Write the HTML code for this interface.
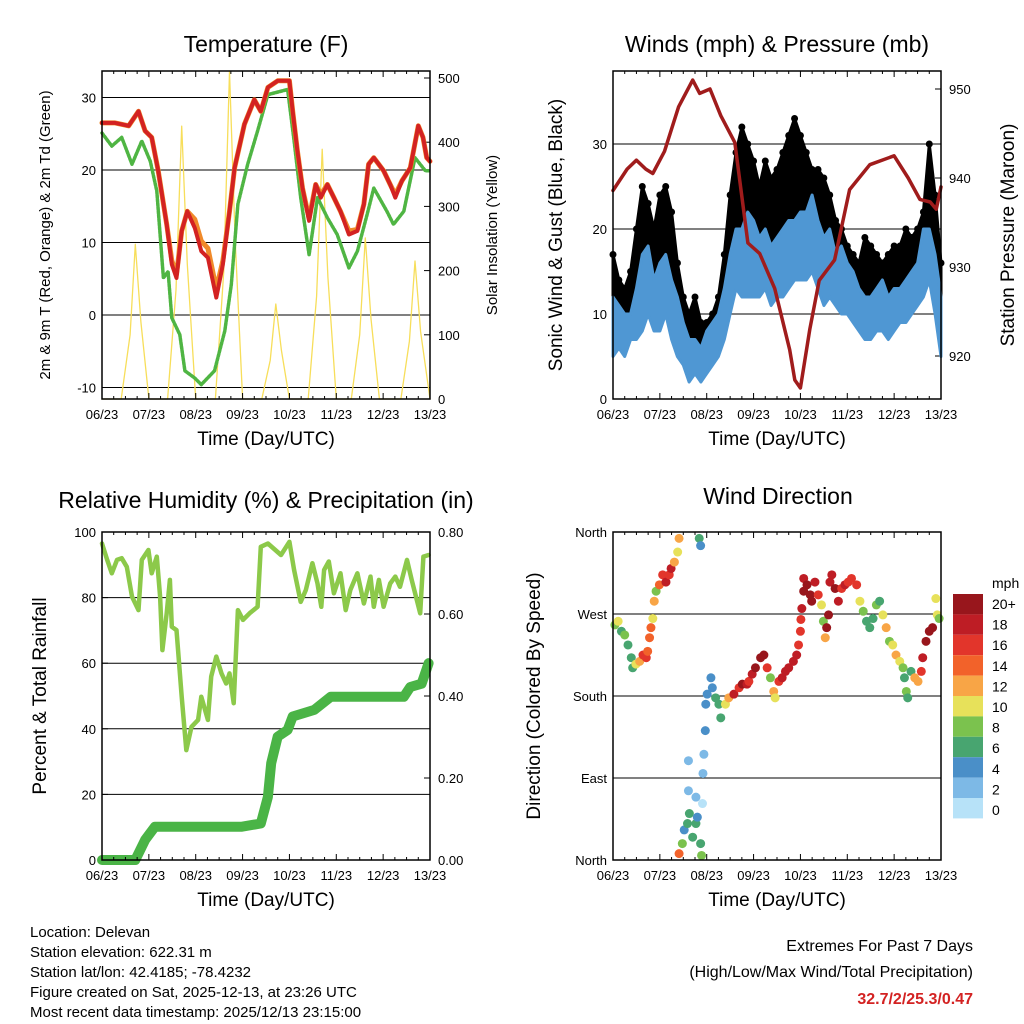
<!DOCTYPE html>
<html><head><meta charset="utf-8">
<style>
html,body{margin:0;padding:0;background:#fff;}
svg{display:block;font-family:"Liberation Sans",sans-serif;}
</style></head>
<body>
<svg id="fig" width="1024" height="1024" viewBox="0 0 1024 1024" xmlns="http://www.w3.org/2000/svg">
<rect width="1024" height="1024" fill="#fff"/>
</svg>
<script>
// ---------- DATA ----------
const dayTicks = ["06/23","07/23","08/23","09/23","10/23","11/23","12/23","13/23"];
// Temperature
const tempDays = [0,0.28,0.57,0.78,0.92,1.06,1.2,1.38,1.49,1.59,1.7,1.82,1.98,2.12,2.26,2.44,2.58,2.72,2.83,3.04,3.25,3.39,3.54,3.75,4.0,4.07,4.17,4.28,4.42,4.56,4.67,4.81,4.95,5.09,5.27,5.45,5.59,5.69,5.8,6.01,6.15,6.26,6.4,6.58,6.75,6.85,6.93,7.0];
const tempVals = [26.5,26.5,26.1,28.1,25.4,24.5,19.9,12.5,7,5.1,11.6,14.3,12,8.8,7.9,2.4,7,14.3,20.3,26.3,29.7,28.1,31.4,32.3,32.3,28.1,22.6,17.5,13,18,16.2,18,16.2,14.3,11.1,11.6,15.3,20.8,21.7,19.9,18,16.2,18.5,20.3,26.1,24.5,21.7,21.2];
const temp9Vals = [26.5,26.5,26.1,28.1,25.4,24.5,19.9,12.5,7.5,5.6,11.6,14.3,13.2,10.2,9.2,3.6,7.5,14.3,20.3,26.3,29.7,28.1,31.4,32.3,32.3,28.1,22.6,17.5,13.3,18,16.6,18,16.2,14.3,11.6,11.8,15.3,20.8,21.7,19.9,18,16.6,18.5,20.3,26.1,24.5,21.7,21.2];
const dewDays = [0,0.21,0.42,0.64,0.85,1.03,1.17,1.31,1.41,1.49,1.66,1.77,1.98,2.12,2.4,2.62,2.76,2.9,3.11,3.32,3.54,3.96,4.1,4.24,4.42,4.6,4.81,5.02,5.27,5.45,5.66,5.8,6.08,6.22,6.44,6.68,6.9,7.0];
const dewVals = [25.1,23.3,24.5,20.8,24,21.2,17.1,5.1,6,-0.4,-2.7,-7.7,-8.7,-9.6,-7.7,-2.2,4.2,15.3,20.8,25.4,30.4,31.1,24,16.2,8.3,16.2,13.4,11.1,6.5,8.8,13.9,17.5,14.3,12.5,14.3,21.7,19.9,19.9];
const solarDays = [0,0.41,0.6,0.71,0.83,1.0,1.4,1.58,1.7,1.82,2.0,2.42,2.6,2.72,2.84,3.0,3.41,3.59,3.71,3.83,4.0,4.4,4.58,4.7,4.82,5.0,5.32,5.5,5.62,5.74,5.92,6.38,6.56,6.68,6.8,7.0];
const solarVals = [0,0,100,241,120,0,0,170,425,210,0,0,200,510,250,0,0,60,148,75,0,0,160,389,190,0,0,100,251,125,0,0,90,215,105,0];
// Winds (every 3 h)
const windDays = []; for (let i=0;i<57;i++) windDays.push(i*0.125);
const windLo = [5,6,5,7,7,8,10,8, 8,10,7,5,4,2,3,2, 3,4,5,7,10,13,12,12, 12,12,13,11,12,12,13,14, 14,14,15,13,11,12,11,10, 10,9,8,7,7,8,8,7, 8,9,9,10,11,12,14,10, 5];
const windHi = [12,11,10,10,13,17,18,14, 16,17,14,12,9,7,7,6, 8,9,10,13,17,20,20,22, 21,19,20,18,19,20,21,21, 22,22,24,21,19,20,17,18, 16,15,13,12,12,13,14,12, 13,13,14,15,16,20,20,17, 12];
const gustVals = [17,14,13,15,20,25,23,20, 24,25,22,16,12,10,12,9, 9,10,12,17,24,29,32,30, 28,25,28,26,27,29,31,33, 31,29,27,27,26,24,21,20, 18,17,16,19,18,17,16,17, 18,18,20,19,20,22,30,24, 16];
const presDays = [0,0.3,0.5,0.7,0.85,1.1,1.4,1.7,1.85,2.07,2.3,2.6,2.88,3.13,3.45,3.77,3.88,4.0,4.2,4.4,4.73,5.05,5.48,6.0,6.3,6.55,6.77,6.9,7.0];
const presVals = [938.6,941,942,941,940.5,943,948,951,949.5,950,947,944,932.7,931.5,927.6,920.7,917.3,916.4,923,928.5,930.8,938.7,941.5,942.5,940,937.6,937.3,936.5,939];
// Humidity & precip
const rhDays = [0,0.11,0.21,0.32,0.42,0.53,0.64,0.78,0.85,0.99,1.06,1.17,1.24,1.29,1.38,1.45,1.49,1.59,1.7,1.8,1.91,2.05,2.12,2.26,2.33,2.44,2.55,2.65,2.72,2.81,2.9,3.01,3.15,3.32,3.39,3.54,3.82,4.0,4.1,4.24,4.35,4.49,4.6,4.68,4.74,4.84,4.95,5.09,5.2,5.3,5.45,5.59,5.73,5.8,5.91,6.01,6.15,6.26,6.36,6.51,6.61,6.79,6.86,6.97];
const rhVals = [96.5,91.5,87.4,91.5,92,89.4,80.3,76.2,91.5,94.5,87.4,92.5,80.3,64,75.2,85.4,71.1,70.1,49.8,33.5,40.6,42.7,49.8,42.7,55.9,62,56.9,53.8,56.9,47.8,76.2,73.2,75.2,77.2,95.5,96.5,93,97,88.4,78.7,82.3,90.5,84.3,77.2,88.4,91,81.3,87.4,76.2,82.3,87.4,78.2,86.4,77.2,85.4,77.2,84.3,86.4,83.3,91.5,85.4,75.2,92.5,93];
const prDays = [0,0.71,0.92,1.13,2.97,3.39,3.54,3.61,3.75,3.96,4.07,4.53,4.88,6.44,6.58,6.82,6.97];
const prVals = [0,0,0.049,0.081,0.081,0.089,0.154,0.236,0.301,0.317,0.35,0.366,0.398,0.398,0.422,0.43,0.48];
// Wind direction
const dirDays = [.04,.11,.18,.25,.32,.39,.42,.49,.57,.64,.71,.74,.78,.81,.85,.88,.92,.99,1.06,1.13,1.20,1.24,1.31,1.38,1.41,1.84,1.87,1.41,1.48,1.52,1.59,1.63,1.70,1.77,1.80,1.87,1.89,1.61,1.61,1.77,1.91,1.92,1.94,1.97,1.98,2.01,2.09,2.12,2.19,2.26,2.30,2.40,2.47,2.58,2.69,2.76,2.86,2.90,2.97,3.04,3.15,3.22,3.29,3.36,3.43,3.46,3.54,3.61,3.68,3.75,3.85,3.92,3.96,4.00,4.01,4.03,4.07,4.07,4.14,4.21,4.24,4.31,4.38,4.45,4.49,4.53,4.56,4.60,4.63,4.67,4.74,4.81,4.88,4.95,5.02,5.09,5.20,5.27,5.34,5.41,5.48,5.55,5.62,5.69,5.76,5.83,5.90,5.97,6.04,6.12,6.19,6.22,6.26,6.29,6.36,6.44,6.51,6.58,6.61,6.68,6.75,6.82,6.89,6.92,6.96];
const dirVals = [258,262,251,247,236,222,211,215,218,225,222,229,244,255,265,284,295,302,313,305,313,320,327,338,353,353,345,7,18,33,40,51,25,40,47,18,5,109,76,69,62,95,116,142,171,182,200,189,178,171,156,171,178,182,189,193,193,196,204,211,222,225,211,200,185,178,196,200,207,211,218,225,236,251,264,276,295,309,302,291,284,305,291,280,262,244,255,269,305,313,298,284,298,302,305,309,302,284,273,262,255,265,280,284,269,255,240,236,225,218,211,200,185,178,207,200,196,207,222,240,251,255,287,269,265];
const dirSpeed = [8,10,6,8,6,7,6,10,12,17,16,15,14,15,10,12,8,14,16,18,16,18,12,10,12,6,4,14,8,4,6,6,7,6,4,7,8,2,2,2,1,2,2,4,4,4,4,4,6,6,6,10,12,18,16,20,18,16,18,20,20,20,16,8,12,10,16,18,18,18,18,18,16,16,16,18,20,18,20,20,20,18,16,10,8,12,20,20,18,18,20,18,16,18,17,16,16,10,8,6,7,6,8,6,10,12,8,10,12,10,8,6,8,7,7,12,12,16,18,20,20,20,10,10,8];
const cbLabels = ["20+","18","16","14","12","10","8","6","4","2","0"];
const cbColors = ["#98161c","#be1d25","#e2352b","#f2622a","#f8a546","#e7e15a","#7bc24e","#48a570","#4a8fc8","#7db9e6","#b7e2f8"];

// ---------- HELPERS ----------
const svg = document.getElementById('fig');
const NS = 'http://www.w3.org/2000/svg';
function mk(tag, attrs, parent){ const e=document.createElementNS(NS,tag); for(const k in attrs) e.setAttribute(k,attrs[k]); (parent||svg).appendChild(e); return e; }
function txt(s, x, y, size, anchor, parent, extra){ const t=mk('text',Object.assign({x:x,y:y,'font-size':size,'text-anchor':anchor||'middle',fill:'#000'},extra||{}),parent); t.textContent=s; return t; }

function panel(name, x0, x1, y0, y1){
  const g = mk('g',{});
  
  
  const xs = d => x0 + (x1-x0)*d/7;
  return {g, x0,x1,y0,y1, xs};
}
function frame(p){
  const r = mk('rect',{x:p.x0,y:p.y0,width:p.x1-p.x0,height:p.y1-p.y0,fill:'none',stroke:'#000','stroke-width':1.5},p.g);
  
  
}
function xAxis(p){
  const g = mk('g',{},p.g);
  
  
  dayTicks.forEach((lab,i)=>{
    const x=p.xs(i);
    mk('line',{x1:x,x2:x,y1:p.y1,y2:p.y1-6,stroke:'#000','stroke-width':1},g);
    mk('line',{x1:x,x2:x,y1:p.y0,y2:p.y0+6,stroke:'#000','stroke-width':1},g);
    if(i<7) for(let k=1;k<4;k++){ const xm=p.xs(i+k/4); mk('line',{x1:xm,x2:xm,y1:p.y1,y2:p.y1-3,stroke:'#000'},g); mk('line',{x1:xm,x2:xm,y1:p.y0,y2:p.y0+3,stroke:'#000'},g);}
    txt(lab,x,p.y1+20,13,'middle',g);
  });
  const t = txt('Time (Day/UTC)',(p.x0+p.x1)/2,p.y1+46,19,'middle',g);
  
  
}
function yTicks(p, vals, ys, labs, side, grid, name){
  const g = mk('g',{},p.g);
  
  
  vals.forEach((v,i)=>{
    const y=ys(v);
    if(grid) mk('line',{x1:p.x0,x2:p.x1,y1:y,y2:y,stroke:'#000','stroke-width':1},g);
    if(side==='left'){ mk('line',{x1:p.x0,x2:p.x0+6,y1:y,y2:y,stroke:'#000'},g); txt(labs[i],p.x0-6,y+5,13,'end',g); }
    else { mk('line',{x1:p.x1,x2:p.x1-6,y1:y,y2:y,stroke:'#000'},g); txt(labs[i],p.x1+8,y+5,13,'start',g); }
  });
}
function vtitle(s, x, y, size, parent, name){
  const t = txt(s,x,y,size,'middle',parent,{transform:`rotate(-90 ${x} ${y})`});
  
  
}
function ptitle(s, x, y, parent){
  const t = txt(s,x,y,23,'middle',parent);
  
  
}
function line(p, days, vals, ys, color, width, name){
  const pts = days.map((d,i)=>p.xs(d).toFixed(1)+','+ys(vals[i]).toFixed(1)).join(' ');
  const l = mk('polyline',{points:pts,fill:'none',stroke:color,'stroke-width':width,'stroke-linejoin':'round','stroke-linecap':'round'},p.g);
  
  
  return l;
}
function band(p, days, lo, hi, ys, color, name){
  const top = days.map((d,i)=>p.xs(d).toFixed(1)+','+ys(hi[i]).toFixed(1));
  const bot = days.map((d,i)=>p.xs(d).toFixed(1)+','+ys(lo[i]).toFixed(1)).reverse();
  const b = mk('polygon',{points:top.concat(bot).join(' '),fill:color,stroke:color,'stroke-width':3,'stroke-linejoin':'round'},p.g);
  
  
}

// ---------- PANEL 1: TEMPERATURE ----------
(function(){
  const p = panel('temperature-panel',102,430,71,399);
  const yT = v => 315 - v*7.25;
  const yS = v => 399 - v*0.642;
  yTicks(p,[-10,0,10,20,30],yT,["-10","0","10","20","30"],'left',true,'y-axis-left');
  yTicks(p,[0,100,200,300,400,500],yS,["0","100","200","300","400","500"],'right',false,'y-axis-right');
  line(p,solarDays,solarVals,yS,'#f7de5a',1.3,'solar-insolation-line');
  line(p,dewDays,dewVals,yT,'#4fb543',3.5,'dewpoint-line').setAttribute('stroke-dasharray','2.5 1.5');
  line(p,tempDays,temp9Vals,yT,'#f08a2a',5,'temp-9m-line');
  line(p,tempDays,tempVals,yT,'#d32222',4,'temp-2m-line');
  frame(p); xAxis(p);
  ptitle('Temperature (F)',266,52,p.g);
  vtitle('2m & 9m T (Red, Orange) & 2m Td (Green)',50,235,15,p.g,'y-axis-left-title');
  vtitle('Solar Insolation (Yellow)',497,235,15,p.g,'y-axis-right-title');
})();

// ---------- PANEL 2: WINDS ----------
(function(){
  const p = panel('winds-panel',613,941,71,399);
  const yW = v => 399 - v*8.5;
  const yP = v => 356 - (v-920)*8.9;
  yTicks(p,[0,10,20,30],yW,["0","10","20","30"],'left',true,'y-axis-left');
  yTicks(p,[920,930,940,950],yP,["920","930","940","950"],'right',false,'y-axis-right');
  band(p,windDays,windHi,gustVals,yW,'#000','gust-band');
  const dg = mk('g',{},p.g);
  
  
  windDays.forEach((d,i)=>{
    const c = mk('circle',{cx:p.xs(d),cy:yW(gustVals[i]),r:3.5,fill:'#000'},dg);
    
    
  });
  band(p,windDays,windLo,windHi,yW,'#4f97d3','wind-speed-band');
  line(p,presDays,presVals,yP,'#a01c1c',3.5,'pressure-line');
  frame(p); xAxis(p);
  ptitle('Winds (mph) & Pressure (mb)',777,52,p.g);
  vtitle('Sonic Wind & Gust (Blue, Black)',562,235,19,p.g,'y-axis-left-title');
  vtitle('Station Pressure (Maroon)',1014,235,19,p.g,'y-axis-right-title');
})();

// ---------- PANEL 3: HUMIDITY ----------
(function(){
  const p = panel('humidity-panel',102,430,532,860);
  const yR = v => 860 - v*3.28;
  const yPr = v => 860 - v*410;
  yTicks(p,[0,20,40,60,80,100],yR,["0","20","40","60","80","100"],'left',true,'y-axis-left');
  yTicks(p,[0,0.2,0.4,0.6,0.8],yPr,["0.00","0.20","0.40","0.60","0.80"],'right',false,'y-axis-right');
  line(p,rhDays,rhVals,yR,'#8cc94a',4.5,'humidity-line');
  line(p,prDays,prVals,yPr,'#4ab446',10,'precip-line');
  frame(p); xAxis(p);
  ptitle('Relative Humidity (%) & Precipitation (in)',266,508,p.g);
  vtitle('Percent & Total Rainfall',46,696,19,p.g,'y-axis-left-title');
})();

// ---------- PANEL 4: WIND DIRECTION ----------
(function(){
  const p = panel('wind-direction-panel',613,941,532,860);
  const yD = v => 860 - v*328/360;
  yTicks(p,[0,90,180,270,360],yD,["North","East","South","West","North"],'left',true,'y-axis-left');
  const dg = mk('g',{},p.g);
  
  
  const col = s => cbColors[10-Math.min(10,Math.floor(s/2))];
  dirDays.forEach((d,i)=>{
    const c = mk('circle',{cx:p.xs(d),cy:yD(dirVals[i]),r:4.5,fill:col(dirSpeed[i])},dg);
    
    
  });
  frame(p); xAxis(p);
  ptitle('Wind Direction',778,504,p.g);
  vtitle('Direction (Colored By Speed)',540,696,19,p.g,'y-axis-left-title');
  const cb = mk('g',{},p.g);
  
  
  txt('mph',992,588,14,'start',cb);
  cbColors.forEach((c,i)=>{
    const r = mk('rect',{x:953,y:594+i*20.4,width:30,height:20.4,fill:c},cb);
    
    
    txt(cbLabels[i],992,609+i*20.6,14,'start',cb);
  });
})();

// ---------- FOOTER ----------
(function(){
  const g = mk('g',{});
  
  
  ["Location: Delevan","Station elevation: 622.31 m","Station lat/lon: 42.4185; -78.4232","Figure created on Sat, 2025-12-13, at 23:26 UTC","Most recent data timestamp: 2025/12/13 23:15:00"].forEach((s,i)=>txt(s,30,937+i*20,15,'start',g));
  const e = mk('g',{});
  
  
  txt('Extremes For Past 7 Days',973,951,16,'end',e);
  txt('(High/Low/Max Wind/Total Precipitation)',973,977,16,'end',e);
  txt('32.7/2/25.3/0.47',973,1004,16,'end',e,{fill:'#d32222','font-weight':'bold'});
})();
</script>
</body></html>
